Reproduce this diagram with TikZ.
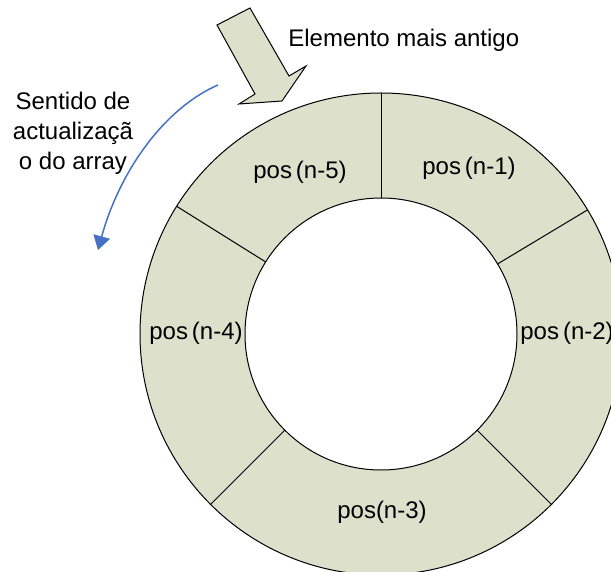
\documentclass[tikz,border=0pt]{standalone}
\usepackage{fontspec}
\setmainfont{Liberation Sans}
\usepackage{xcolor}
\usetikzlibrary{arrows.meta,calc}
\definecolor{ringfill}{RGB}{221,224,203}
\definecolor{dirblue}{RGB}{68,114,196}

\begin{document}
\begin{tikzpicture}[x=0.5pt, y=0.5pt, font=\fontsize{12}{15}\selectfont,
  ring/.style={draw=black, line width=0.5pt, fill=ringfill, even odd rule},
  divider/.style={draw=black, line width=0.5pt},
  poslab/.style={inner sep=0pt},
  bigarrow/.style={draw=black, line width=0.5pt, fill=ringfill, line join=miter},
  dirarr/.style={draw=dirblue, line width=0.75pt, -{Triangle[length=7pt, width=8.5pt]}},
  note/.style={inner sep=0pt, align=center}]
\useasboundingbox (0,0) rectangle (611,-572);
\clip (0,0) rectangle (611,-572);
\coordinate (c) at (381,-334);
% ring of positions
\path[ring] (c) circle[radius=241] (c) circle[radius=136];
\foreach \a in {90,31,-45,-135,148}
  \draw[divider] ([shift={(\a:136)}]c) -- ([shift={(\a:241)}]c);
\node[poslab] (p5) at (300,-172) {pos\,(n-5)};
\node[poslab] (p1) at (469,-168) {pos\,(n-1)};
\node[poslab] (p4) at (196,-333) {pos\,(n-4)};
\node[poslab, anchor=west] (p2) at (520,-333) {pos\,(n-2)};
\node[poslab] (p3) at (382,-512) {pos(n-3)};
% oldest element marker
\path[bigarrow] (217,-25) -- (250,-8) -- (289,-76) -- (306,-66) -- (282,-101)
  -- (239,-104) -- (255,-94) -- cycle;
\node[note, anchor=west] (old) at (288,-40) {Elemento mais antigo};
% update direction
\coordinate (dirA) at (218,-85);
\coordinate (dirB) at (98,-250);
\draw[dirarr] (dirA) .. controls (165,-108) and (120,-170) .. (dirB);
\node[note] (dir) at (73,-133) {Sentido de\\actualizaçã\\o do array};
\end{tikzpicture}
\end{document}
